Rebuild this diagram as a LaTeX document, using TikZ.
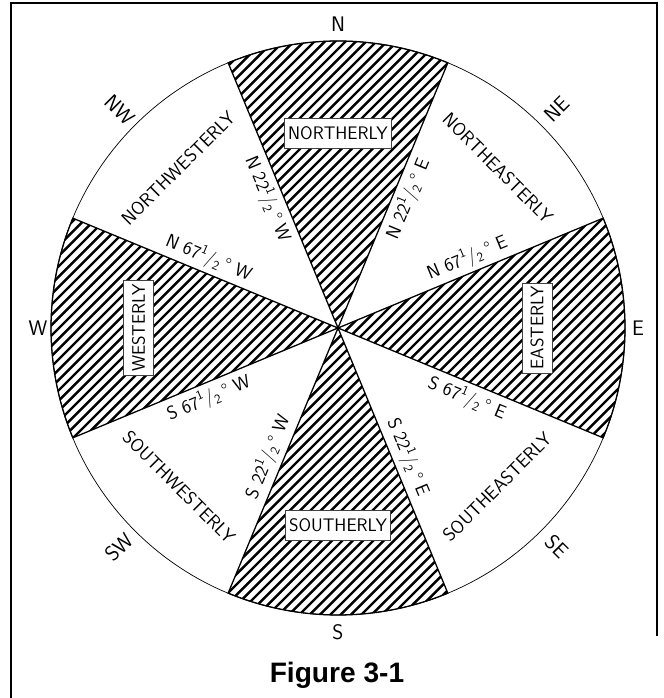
\documentclass[tikz,border=0pt]{standalone}
\usepackage{fontspec}
\newfontfamily\captionfont{Liberation Sans}

\newcommand{\half}{\textsuperscript{1}/\textsubscript{2}\,\textdegree}

\tikzset{
  hatchline/.style={line width=2.1pt},
  rimline/.style={line width=0.6pt},
  wedgeline/.style={line width=1.1pt},
  bearing/.style={font=\fontsize{16}{18}\sffamily, inner sep=1pt},
  zonename/.style={font=\fontsize{16}{18}\sffamily, inner sep=1pt},
  zonebox/.style={draw=black!75, fill=white, thin, font=\fontsize{15.5}{17}\sffamily,
    inner xsep=3pt, minimum height=0.9cm},
  rimlabel/.style={font=\fontsize{18}{20}\sffamily, inner sep=1pt}
}

\begin{document}
\begin{tikzpicture}
\useasboundingbox (-10.14,-11.1) rectangle (9.75,9.84);
% frame
\draw[line width=2pt] (-9.81,-11.3) -- (-9.81,9.75) -- (9.57,9.75) -- (9.57,-9.24);

\coordinate (O) at (0,0);

% hatching of the four cardinal wedges
\begin{scope}
\clip (O) -- (67.5:8.61) arc (67.5:112.5:8.61) -- cycle
      (O) -- (157.5:8.61) arc (157.5:202.5:8.61) -- cycle
      (O) -- (247.5:8.61) arc (247.5:292.5:8.61) -- cycle
      (O) -- (-22.5:8.61) arc (-22.5:22.5:8.61) -- cycle;
\foreach \k in {-60,...,60}
  \draw[hatchline] (\k*0.31-9,-9) -- ++(18,18);
\end{scope}

% rim and wedge outlines
\draw[rimline] (O) circle (8.61);
\draw[wedgeline] (O) -- (67.5:8.61) arc (67.5:112.5:8.61) -- cycle;
\draw[wedgeline] (O) -- (157.5:8.61) arc (157.5:202.5:8.61) -- cycle;
\draw[wedgeline] (O) -- (247.5:8.61) arc (247.5:292.5:8.61) -- cycle;
\draw[wedgeline] (O) -- (-22.5:8.61) arc (-22.5:22.5:8.61) -- cycle;

% boxed wedge names
\node[zonebox] (north) at (90:5.85) {NORTHERLY};
\node[zonebox] (south) at (270:5.91) {SOUTHERLY};
\node[zonebox, rotate=90] (west) at (180:5.98) {WESTERLY};
\node[zonebox, rotate=90] (east) at (0:5.97) {EASTERLY};

% names of the white wedges
\node[zonename, rotate=-45] (northeast) at (45:6.78) {NORTHEASTERLY};
\node[zonename, rotate=45] (northwest) at (135:6.78) {NORTHWESTERLY};
\node[zonename, rotate=-45] (southwest) at (225:6.75) {SOUTHWESTERLY};
\node[zonename, rotate=45] (southeast) at (315:6.75) {SOUTHEASTERLY};

% bearings along the wedge edges
\node[bearing, rotate=22.5] (b1) at (28.5:4.41) {N 67\half{} E};
\node[bearing, rotate=67.5] (b2) at (61.5:4.41) {N 22\half{} E};
\node[bearing, rotate=-67.5] (b3) at (118.5:4.41) {N 22\half{} W};
\node[bearing, rotate=-22.5] (b4) at (151.5:4.41) {N 67\half{} W};
\node[bearing, rotate=22.5] (b5) at (208.5:4.41) {S 67\half{} W};
\node[bearing, rotate=67.5] (b6) at (241.5:4.41) {S 22\half{} W};
\node[bearing, rotate=-67.5] (b7) at (298.5:4.41) {S 22\half{} E};
\node[bearing, rotate=-22.5] (b8) at (331.5:4.41) {S 67\half{} E};

% compass points
\node[rimlabel] (n) at (90:9.12) {N};
\node[rimlabel] (s) at (270:9.12) {S};
\node[rimlabel] (w) at (180:9.0) {W};
\node[rimlabel] (e) at (0:9.0) {E};
\node[rimlabel, rotate=45] (ne) at (45:9.27) {NE};
\node[rimlabel, rotate=-45] (nw) at (135:9.27) {NW};
\node[rimlabel, rotate=45] (sw) at (225:9.3) {SW};
\node[rimlabel, rotate=-45] (se) at (315:9.27) {SE};

\node[font=\captionfont\bfseries\fontsize{24}{26}\selectfont] (caption) at (-0.03,-10.41) {Figure 3-1};
\end{tikzpicture}
\end{document}
